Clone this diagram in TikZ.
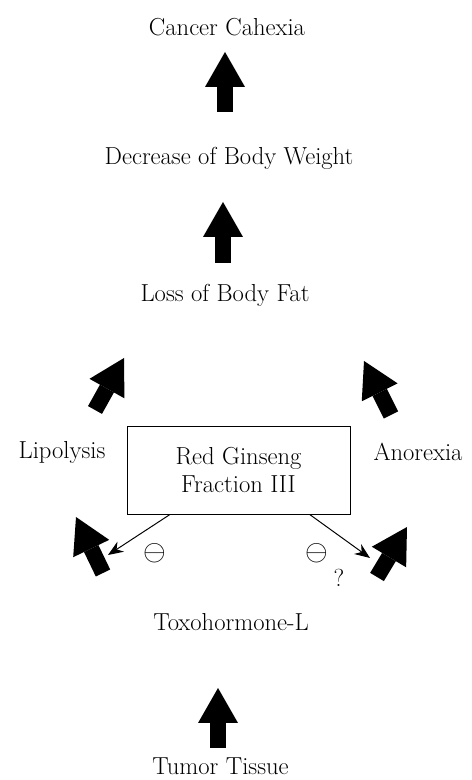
\documentclass[tikz,border=0pt]{standalone}
\usetikzlibrary{arrows.meta}
\begin{document}
\begin{tikzpicture}[
      every node/.style={font=\fontsize{17.5}{20}\selectfont},
      bigarrow/.style={line width=0.4cm,
          -{Triangle[length=0.875cm, width=1cm, line width=0pt]}},
      thinarrow/.style={line width=0.7pt,
          -{Stealth[length=0.38cm, width=0.3cm]}},
      signmark/.style={font=\fontsize{22}{24}\selectfont, inner sep=0pt}]
    \useasboundingbox (0,0) rectangle (11.8,19.5);
    \node (cancer) at (5.675,18.825) {Cancer Cahexia};
    \node (weight) at (5.725,15.55) {Decrease of Body Weight};
    \node (fat) at (5.625,12.125) {Loss of Body Fat};
    \node (lipo) at (1.55,8.2) {Lipolysis};
    \node (anor) at (10.45,8.2) {Anorexia};
    \node[draw, line width=0.6pt, minimum width=5.575cm, minimum height=2.2cm,
          align=center] (ginseng) at (5.9625,7.75) {Red Ginseng\\Fraction III};
    \node (toxo) at (5.775,3.95) {Toxohormone-L};
    \node (tumor) at (5.5125,0.35) {Tumor Tissue};
    \coordinate (up1s) at (5.625,16.7);
    \coordinate (up1t) at (5.625,18.2);
    \coordinate (up2s) at (5.575,12.925);
    \coordinate (up2t) at (5.575,14.45);
    \coordinate (up3s) at (5.45,0.8);
    \coordinate (up3t) at (5.45,2.3);
    \coordinate (uls) at (2.375,9.25);
    \coordinate (ult) at (3.1,10.55);
    \coordinate (urs) at (9.775,9.125);
    \coordinate (urt) at (9.1,10.475);
    \coordinate (lls) at (2.575,5.175);
    \coordinate (llt) at (1.9,6.575);
    \coordinate (lrs) at (9.425,5.075);
    \coordinate (lrt) at (10.175,6.325);
    \coordinate (lipoin) at (2.7,5.625);
    \coordinate (anorin) at (9.25,5.55);
    \draw[bigarrow] (up1s) -- (up1t);
    \draw[bigarrow] (up2s) -- (up2t);
    \draw[bigarrow] (up3s) -- (up3t);
    \draw[bigarrow] (uls) -- (ult);
    \draw[bigarrow] (urs) -- (urt);
    \draw[bigarrow] (lls) -- (llt);
    \draw[bigarrow] (lrs) -- (lrt);
    \draw[thinarrow] (ginseng.213) -- (lipoin);
    \draw[thinarrow] (ginseng.-32) -- (anorin);
    \node[signmark] (minl) at (3.875,5.675) {$\ominus$};
    \node[signmark] (minr) at (7.925,5.675) {$\ominus$};
    \node[font=\fontsize{17.5}{20}\selectfont, inner sep=0pt] (query) at (8.475,5.05) {?};
\end{tikzpicture}
\end{document}
